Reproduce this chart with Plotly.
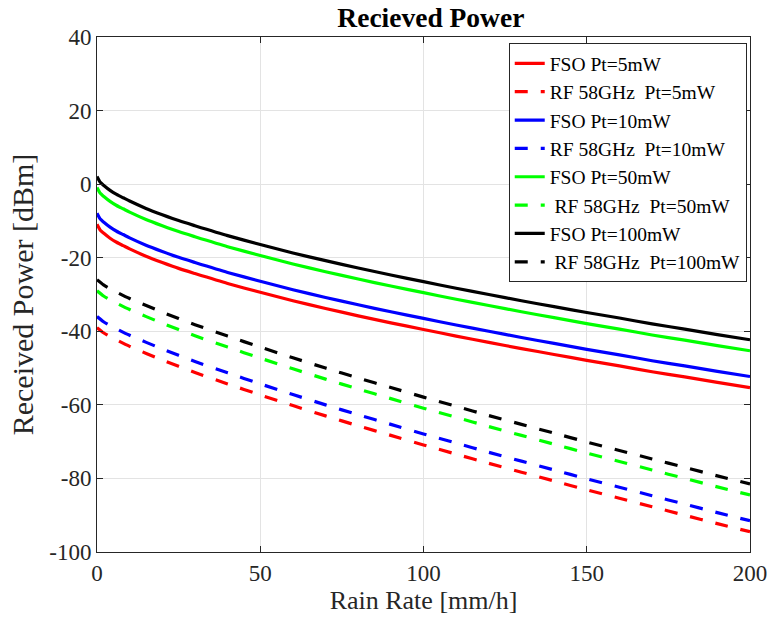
import plotly.graph_objects as go

# FSO rain-rate samples and received power [dBm]
rain_fso = [0, 1, 2, 4, 6, 8, 10, 15, 20, 25, 30, 40, 50, 60, 70, 80, 90, 100,
            110, 120, 130, 140, 150, 160, 170, 180, 190, 200]
fso_5mw = [-10.9, -12.5, -13.3, -14.7, -15.8, -16.7, -17.6, -19.6, -21.3, -22.9, -24.3,
           -27.0, -29.4, -31.7, -33.8, -35.8, -37.7, -39.5, -41.3, -43.0, -44.7, -46.3,
           -47.9, -49.4, -51.0, -52.4, -53.9, -55.3]
fso_10mw = [-7.9, -9.5, -10.3, -11.7, -12.8, -13.7, -14.6, -16.6, -18.3, -19.9, -21.3,
            -24.0, -26.4, -28.7, -30.8, -32.8, -34.7, -36.5, -38.3, -40.0, -41.7, -43.3,
            -44.9, -46.4, -48.0, -49.4, -50.9, -52.3]
fso_50mw = [-0.9, -2.5, -3.3, -4.7, -5.8, -6.7, -7.6, -9.6, -11.3, -12.9, -14.3,
            -17.0, -19.4, -21.7, -23.8, -25.8, -27.7, -29.5, -31.3, -33.0, -34.7, -36.3,
            -37.9, -39.4, -41.0, -42.4, -43.9, -45.3]
fso_100mw = [2.1, 0.5, -0.3, -1.7, -2.8, -3.7, -4.6, -6.6, -8.3, -9.9, -11.3,
             -14.0, -16.4, -18.7, -20.8, -22.8, -24.7, -26.5, -28.3, -30.0, -31.7, -33.3,
             -34.9, -36.4, -38.0, -39.4, -40.9, -42.3]

# RF 58 GHz rain-rate samples and received power [dBm]
rain_rf = [0, 2, 5, 10, 20, 30, 40, 50, 60, 70, 80, 90, 100, 110, 120, 130, 140,
           150, 160, 170, 180, 190, 200]
rf_5mw = [-39.0, -40.4, -41.9, -44.1, -47.8, -51.2, -54.3, -57.3, -60.2, -63.0, -65.7,
          -68.3, -70.9, -73.4, -75.9, -78.3, -80.7, -83.1, -85.4, -87.7, -90.0, -92.3, -94.5]
rf_10mw = [-36.0, -37.4, -38.9, -41.1, -44.8, -48.2, -51.3, -54.3, -57.2, -60.0, -62.7,
           -65.3, -67.9, -70.4, -72.9, -75.3, -77.7, -80.1, -82.4, -84.7, -87.0, -89.3, -91.5]
rf_50mw = [-29.0, -30.4, -31.9, -34.1, -37.8, -41.2, -44.3, -47.3, -50.2, -53.0, -55.7,
           -58.3, -60.9, -63.4, -65.9, -68.3, -70.7, -73.1, -75.4, -77.7, -80.0, -82.3, -84.5]
rf_100mw = [-26.0, -27.4, -28.9, -31.1, -34.8, -38.2, -41.3, -44.3, -47.2, -50.0, -52.7,
            -55.3, -57.9, -60.4, -62.9, -65.3, -67.7, -70.1, -72.4, -74.7, -77.0, -79.3, -81.5]

x_ticks = [0, 50, 100, 150, 200]
x_ticktext = ["0", "50", "100", "150", "200"]
y_ticks = [-100, -80, -60, -40, -20, 0, 20, 40]
y_ticktext = ["-100", "-80", "-60", "-40", "-20", "0", "20", "40"]

NB = "\u00a0"
series = [
    ("FSO Pt=5mW", rain_fso, fso_5mw, "#ff0000", "solid"),
    ("RF 58GHz" + NB + NB + "Pt=5mW", rain_rf, rf_5mw, "#ff0000", "dash"),
    ("FSO Pt=10mW", rain_fso, fso_10mw, "#0000ff", "solid"),
    ("RF 58GHz" + NB + NB + "Pt=10mW", rain_rf, rf_10mw, "#0000ff", "dash"),
    ("FSO Pt=50mW", rain_fso, fso_50mw, "#00ff00", "solid"),
    (NB + "RF 58GHz" + NB + NB + "Pt=50mW", rain_rf, rf_50mw, "#00ff00", "dash"),
    ("FSO Pt=100mW", rain_fso, fso_100mw, "#000000", "solid"),
    (NB + "RF 58GHz" + NB + NB + "Pt=100mW", rain_rf, rf_100mw, "#000000", "dash"),
]

fig = go.Figure()
for name, xs, ys, color, dash in series:
    fig.add_trace(go.Scatter(
        x=xs, y=ys, mode="lines", name=name,
        line=dict(color=color, width=3.2,
                  dash="13px,13px" if dash == "dash" else "solid",
                  shape="spline", smoothing=0.6),
    ))

font_family = "Liberation Serif, Times New Roman, serif"
axis_common = dict(
    showline=True, linecolor="#262626", linewidth=1, mirror="ticks",
    ticks="inside", ticklen=6, tickcolor="#262626",
    showgrid=True, gridcolor="#e3e3e3", gridwidth=1, zeroline=False,
    automargin=False,
    tickfont=dict(family=font_family, size=23, color="#262626"),
)

fig.update_layout(
    width=768, height=626,
    margin=dict(l=97, r=18, t=37, b=74),
    paper_bgcolor="white", plot_bgcolor="white",
    title=dict(text="<b>Recieved Power</b>", x=0.561, xanchor="center", xref="container",
               y=0.972, yanchor="middle", yref="container",
               font=dict(family=font_family, size=27.5, color="#000000")),
    xaxis=dict(range=[0, 200], tickvals=x_ticks, ticktext=x_ticktext,
               title=dict(text="Rain Rate [mm/h]", standoff=4,
                          font=dict(family=font_family, size=26, color="#262626")),
               **axis_common),
    yaxis=dict(range=[-100, 40], tickvals=y_ticks, ticktext=y_ticktext,
               title=dict(text="Received Power [dBm]", standoff=6,
                          font=dict(family=font_family, size=30, color="#262626")),
               **axis_common),
    legend=dict(x=0.995, xanchor="right", y=0.988, yanchor="top",
                bgcolor="white", bordercolor="#262626", borderwidth=1,
                font=dict(family=font_family, size=19.5, color="#000000"),
                tracegroupgap=0, itemwidth=30),
    showlegend=True,
)

fig.write_html("out.html")
